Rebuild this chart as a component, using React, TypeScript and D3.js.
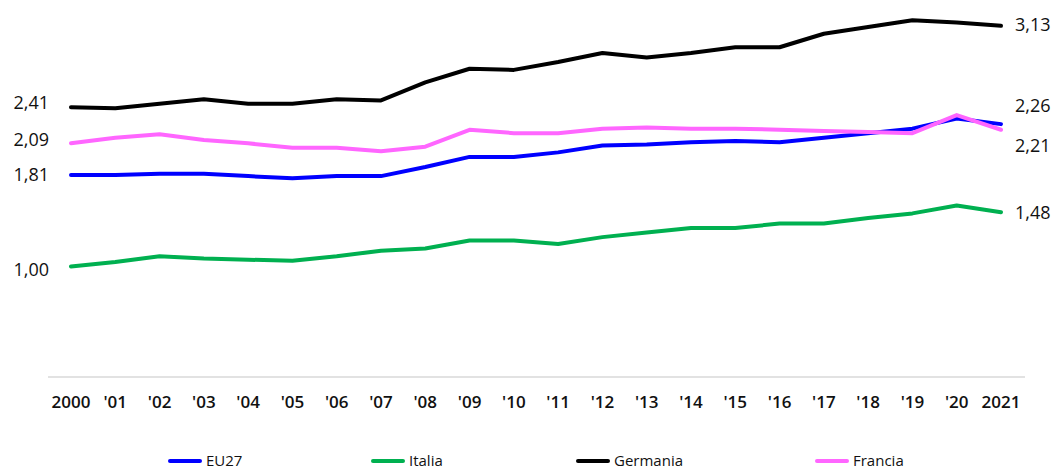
import React from "react";
import * as d3 from "d3";

const years = [2000, 2001, 2002, 2003, 2004, 2005, 2006, 2007, 2008, 2009, 2010, 2011, 2012, 2013, 2014, 2015, 2016, 2017, 2018, 2019, 2020, 2021];
const tickLabels = ["2000", "'01", "'02", "'03", "'04", "'05", "'06", "'07", "'08", "'09", "'10", "'11", "'12", "'13", "'14", "'15", "'16", "'17", "'18", "'19", "'20", "2021"];

const eu27 = [1.81, 1.81, 1.82, 1.82, 1.80, 1.78, 1.80, 1.80, 1.88, 1.97, 1.97, 2.01, 2.07, 2.08, 2.10, 2.11, 2.10, 2.14, 2.18, 2.22, 2.31, 2.26];
const italia = [1.00, 1.04, 1.09, 1.07, 1.06, 1.05, 1.09, 1.14, 1.16, 1.23, 1.23, 1.20, 1.26, 1.30, 1.34, 1.34, 1.38, 1.38, 1.43, 1.47, 1.54, 1.48];
const germania = [2.41, 2.40, 2.44, 2.48, 2.44, 2.44, 2.48, 2.47, 2.63, 2.75, 2.74, 2.81, 2.89, 2.85, 2.89, 2.94, 2.94, 3.06, 3.12, 3.18, 3.16, 3.13];
const francia = [2.09, 2.14, 2.17, 2.12, 2.09, 2.05, 2.05, 2.02, 2.06, 2.21, 2.18, 2.18, 2.22, 2.23, 2.22, 2.22, 2.21, 2.20, 2.19, 2.18, 2.34, 2.21];

const seriesNames = ["EU27", "Italia", "Germania", "Francia"];
const seriesColors = ["#0000ff", "#00b050", "#000000", "#ff66ff"];
const seriesValues = [eu27, italia, germania, francia];
// label vertical nudges (left, right) to avoid overlaps
const leftDy = [0, 3, -4, -4];
const rightDy = [-18, 0, -1, 16];

const fmt = (v: number) => v.toFixed(2).replace(".", ",");

export default function App() {
  const width = 1057;
  const height = 470;
  const x = d3.scalePoint<number>().domain(years).range([71, 1001]);
  const y = d3.scaleLinear().domain([0, 3.3]).range([379.5, 379.5 - 3.3 * 113]);
  const line = d3
    .line<number>()
    .x((_, i) => x(years[i]) as number)
    .y((d) => y(d));

  const font = "'Open Sans', 'Noto Sans', sans-serif";
  const legendX = [170, 373, 578, 817];

  return (
    <svg width={width} height={height} style={{ position: "absolute", left: 0, top: 0, background: "#fff" }}>
      <line x1={48} x2={1025} y1={377} y2={377} stroke="#d9d9d9" strokeWidth={1.5} />
      {tickLabels.map((t, i) => (
        <text key={t} x={x(years[i]) as number} y={408} textAnchor="middle" fontFamily={font} fontSize={17} fontWeight={600} fill="#111">
          {t}
        </text>
      ))}
      {seriesValues.map((vals, si) => (
        <path key={seriesNames[si]} d={line(vals) || ""} fill="none" stroke={seriesColors[si]} strokeWidth={4} strokeLinejoin="round" strokeLinecap="round" />
      ))}
      {seriesValues.map((vals, si) => (
        <g key={"lbl" + si} fontFamily={font} fontSize={18} fill="#111">
          <text x={49} y={y(vals[0]) + leftDy[si]} dy="0.35em" textAnchor="end">
            {fmt(vals[0])}
          </text>
          <text x={1015} y={y(vals[vals.length - 1]) + rightDy[si]} dy="0.35em" textAnchor="start">
            {fmt(vals[vals.length - 1])}
          </text>
        </g>
      ))}
      {seriesNames.map((n, i) => (
        <g key={"leg" + n}>
          <line x1={legendX[i]} x2={legendX[i] + 30} y1={461} y2={461} stroke={seriesColors[i]} strokeWidth={4} strokeLinecap="round" />
          <text x={legendX[i] + 36} y={461} dy="0.35em" fontFamily={font} fontSize={15} fill="#111">
            {n}
          </text>
        </g>
      ))}
    </svg>
  );
}
